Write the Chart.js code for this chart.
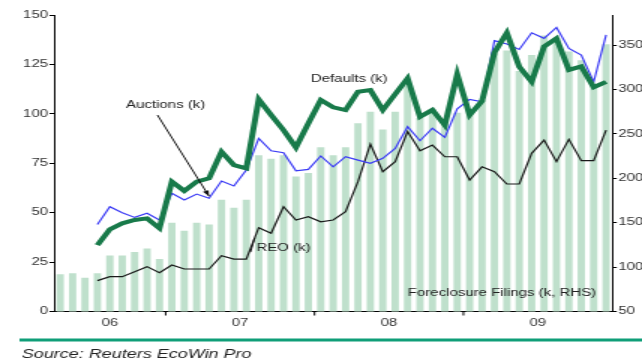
<!DOCTYPE html>
<html lang="en">
<head>
<meta charset="UTF-8">
<title>US Foreclosures</title>
<script src="https://cdn.jsdelivr.net/npm/chart.js"></script>
<style>
    html, body {
        margin: 0;
        padding: 0;
        background: #fff;
        overflow: hidden;
    }
    /* the chart is laid out narrow and widened, giving the wide lettering */
    .wrap {
        width: 428px;
        height: 363px;
        transform: scaleX(1.5);
        transform-origin: 0 0;
    }
</style>
</head>
<body>
<div class="wrap">
    <canvas id="chart" width="428" height="363"></canvas>
</div>

<script>
const months = [
    'Apr 06', 'May 06', 'Jun 06', 'Jul 06', 'Aug 06', 'Sep 06', 'Oct 06', 'Nov 06', 'Dec 06',
    'Jan 07', 'Feb 07', 'Mar 07', 'Apr 07', 'May 07', 'Jun 07', 'Jul 07', 'Aug 07', 'Sep 07', 'Oct 07', 'Nov 07', 'Dec 07',
    'Jan 08', 'Feb 08', 'Mar 08', 'Apr 08', 'May 08', 'Jun 08', 'Jul 08', 'Aug 08', 'Sep 08', 'Oct 08', 'Nov 08', 'Dec 08',
    'Jan 09', 'Feb 09', 'Mar 09', 'Apr 09', 'May 09', 'Jun 09', 'Jul 09', 'Aug 09', 'Sep 09', 'Oct 09', 'Nov 09', 'Dec 09'
];
const yearLabels = ['06', '07', '08', '09'];

// thousands, right-hand scale
const filings = [
    92, 93, 88, 93, 113, 113, 117, 121, 109,
    150, 141, 150, 148, 176, 167, 176, 226, 222, 226, 202, 206,
    235, 226, 235, 262, 275, 255, 275, 305, 268, 278, 265, 274,
    277, 288, 341, 344, 321, 339, 361, 358, 343, 333, 305, 351
];

// thousands, left-hand scale
const defaults = [
    null, null, null, 33.6, 41.6, 44.6, 46.3, 47.1, 42.1,
    65.7, 61, 65.7, 67.4, 80.8, 74.1, 72.4, 107.3, 99.4, 91.8, 83, 95.2,
    107, 103.3, 101.9, 111.2, 112, 101.9, 110, 118, 98.5, 102, 94.3, 120,
    99.4, 106.5, 131, 141, 123.8, 116.2, 134, 138.2, 122.2, 124, 113.5, 116.2
];
const auctions = [
    null, null, null, 44, 53, 50, 47.6, 49.7, 46.3,
    59.8, 56.4, 59.4, 57.3, 66, 63.5, 71.6, 87.6, 81.3, 80.3, 71.2, 71.9,
    78.7, 73.2, 78.3, 76.6, 75, 77.5, 82.5, 93.5, 86.4, 92.7, 88.1, 102.5,
    107.3, 106.1, 137, 135.3, 132.6, 141, 138.2, 143.7, 133.1, 129.7, 116.2, 139.9
];
const reo = [
    null, null, null, 15.6, 17.6, 17.6, 20.1, 22.7, 19.6,
    23.5, 21.5, 21.5, 21.5, 28.2, 26.5, 26.5, 42.4, 39.6, 53, 46.3, 48,
    45.4, 46.3, 50.5, 65.7, 84.7, 70.7, 75.8, 91, 81.3, 84.2, 78.3, 78.3,
    66.5, 73.2, 70.7, 64.5, 64.5, 80, 86.7, 75.8, 87.1, 76.3, 76.3, 91.8
];

const FONT = '"Liberation Sans", Arial, sans-serif';
const INK = '#333';

// year ticks, year labels, series captions and the source line
const decorations = {
    id: 'decorations',
    afterDraw(chart) {
        const ctx = chart.ctx;
        const xs = chart.scales.x;
        const ys = chart.scales.y;
        const area = chart.chartArea;
        const half = (xs.getPixelForValue(1) - xs.getPixelForValue(0)) / 2;

        // year boundaries come from the January categories
        const starts = [0];
        months.forEach((m, i) => { if (i > 0 && m.startsWith('Jan')) starts.push(i); });

        ctx.save();
        ctx.strokeStyle = '#000';
        ctx.lineWidth = 1;
        ctx.fillStyle = INK;
        ctx.font = '10px ' + FONT;
        ctx.textAlign = 'center';
        ctx.textBaseline = 'middle';
        starts.forEach((s, k) => {
            const left = xs.getPixelForValue(s) - half;
            const end = k + 1 < starts.length ? starts[k + 1] : months.length;
            const right = xs.getPixelForValue(end - 1) + half;
            if (s > 0) {
                ctx.beginPath();
                ctx.moveTo(left, area.bottom);
                ctx.lineTo(left, area.bottom + 4);
                ctx.stroke();
            }
            ctx.fillText(yearLabels[k], (left + right) / 2, area.bottom + 12);
        });

        // captions, anchored on the month axis and the left scale
        const px = i => xs.getPixelForValue(i);
        const py = v => ys.getPixelForValue(v);
        ctx.fillStyle = '#222';
        ctx.font = '10px ' + FONT;
        ctx.fillText('Auctions (k)', px(8.5), py(104.5));
        ctx.fillText('Defaults (k)', px(23.3), py(117.6));
        ctx.fillText('REO (k)', px(18), py(32));
        ctx.textAlign = 'right';
        ctx.fillText('Foreclosure Filings (k, RHS)', px(43.2), py(9.4));

        // arrow from the Auctions caption down to its line
        const tipX = px(12), tipY = py(auctions[12]) - 2;
        const fromX = px(7.84), fromY = py(99.4);
        const ang = Math.atan2(tipY - fromY, tipX - fromX);
        ctx.strokeStyle = '#111';
        ctx.beginPath();
        ctx.moveTo(fromX, fromY);
        ctx.lineTo(tipX, tipY);
        ctx.stroke();
        ctx.fillStyle = '#111';
        ctx.beginPath();
        ctx.moveTo(tipX, tipY);
        ctx.lineTo(tipX - 6 * Math.cos(ang - 0.35), tipY - 6 * Math.sin(ang - 0.35));
        ctx.lineTo(tipX - 6 * Math.cos(ang + 0.35), tipY - 6 * Math.sin(ang + 0.35));
        ctx.closePath();
        ctx.fill();

        // short pointer from the REO caption to its line
        const t = 0.66;
        const onReo = reo[15] + (reo[16] - reo[15]) * t;
        ctx.beginPath();
        ctx.moveTo(px(15.33), py(30));
        ctx.lineTo(px(15 + t), py(onReo));
        ctx.stroke();

        // rule and source below the chart
        ctx.fillStyle = '#0f9e78';
        ctx.fillRect(13, 338.5, chart.width - 13, 3);
        ctx.fillStyle = '#222';
        ctx.textAlign = 'left';
        ctx.font = 'italic 12px ' + FONT;
        ctx.fillText('Source: Reuters EcoWin Pro', 14.5, 355);
        ctx.restore();
    }
};

new Chart(document.getElementById('chart'), {
    data: {
        labels: months,
        datasets: [
            {
                type: 'line',
                label: 'Defaults (k)',
                data: defaults,
                yAxisID: 'y',
                borderColor: '#187a4a',
                borderWidth: 4,
                pointRadius: 0,
                tension: 0,
                order: 1
            },
            {
                type: 'line',
                label: 'Auctions (k)',
                data: auctions,
                yAxisID: 'y',
                borderColor: '#3b3bf5',
                borderWidth: 1.2,
                pointRadius: 0,
                tension: 0,
                order: 2
            },
            {
                type: 'line',
                label: 'REO (k)',
                data: reo,
                yAxisID: 'y',
                borderColor: '#1a1a1a',
                borderWidth: 1.2,
                pointRadius: 0,
                tension: 0,
                order: 3
            },
            {
                type: 'bar',
                label: 'Foreclosure Filings (k, RHS)',
                data: filings,
                yAxisID: 'y1',
                backgroundColor: '#bfe0cc',
                barPercentage: 0.59,
                categoryPercentage: 1,
                order: 4
            }
        ]
    },
    options: {
        responsive: false,
        animation: false,
        layout: { padding: { top: 15, left: 0, right: 0, bottom: 0 } },
        plugins: {
            legend: { display: false },
            tooltip: { enabled: false }
        },
        scales: {
            x: {
                type: 'category',
                offset: true,
                grid: { display: false },
                ticks: { display: false },
                border: { display: true, color: '#000', width: 1 },
                afterFit(scale) { scale.height = 51.5; }
            },
            y: {
                position: 'left',
                min: 0,
                max: 150,
                ticks: {
                    stepSize: 25,
                    color: INK,
                    padding: 1,
                    font: { family: FONT, size: 10 }
                },
                grid: { drawOnChartArea: false, drawTicks: true, tickLength: 3, color: '#000' },
                border: { display: true, color: '#000', width: 1 },
                afterFit(scale) { scale.width = 36; }
            },
            y1: {
                position: 'right',
                min: 50,
                max: 384,
                ticks: {
                    stepSize: 50,
                    includeBounds: false,
                    color: INK,
                    padding: 1,
                    font: { family: FONT, size: 10 }
                },
                grid: { drawOnChartArea: false, drawTicks: true, tickLength: 3, color: '#000' },
                border: { display: true, color: '#000', width: 1 },
                afterFit(scale) { scale.width = 19.8; }
            }
        }
    },
    plugins: [decorations]
});
</script>
</body>
</html>
